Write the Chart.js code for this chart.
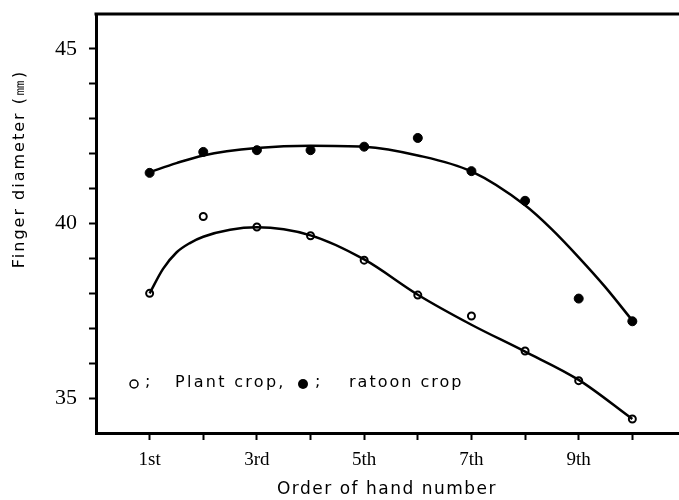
<!DOCTYPE html>
<html>
<head>
<meta charset="utf-8">
<script src="https://cdn.jsdelivr.net/npm/chart.js@4"></script>
<style>
  html, body { margin: 0; padding: 0; background: #fff; }
  #wrap { width: 679px; height: 500px; position: relative; }
</style>
</head>
<body>
<div id="wrap"><canvas id="fingerChart"></canvas></div>
<script>
// Finger diameter by hand order, plant crop vs ratoon crop

const hands = [1, 2, 3, 4, 5, 6, 7, 8, 9, 10];
const handLabels = { 1: '1st', 3: '3rd', 5: '5th', 7: '7th', 9: '9th' };
const yTicks = [35, 36, 37, 38, 39, 40, 41, 42, 43, 44, 45];

// observed means
const plantValues = [38.0, 40.2, 39.9, 39.65, 38.95, 37.95, 37.35, 36.35, 35.5, 34.4];
const ratoonValues = [41.45, 42.05, 42.1, 42.1, 42.2, 42.45, 41.5, 40.65, 37.85, 37.2];

// fitted curves
const plantFitX = [1, 1.25, 1.5, 1.75, 2, 2.5, 3, 4, 5, 6, 7, 8, 9, 10];
const plantFit = [38.0, 38.7, 39.17, 39.44, 39.62, 39.82, 39.89, 39.66, 38.97, 37.96, 37.1, 36.33, 35.52, 34.4];
const ratoonFitX = [1, 1.5, 2, 3, 4, 5, 6, 7, 8, 8.5, 9, 9.5, 10];
const ratoonFit = [41.47, 41.73, 41.95, 42.16, 42.23, 42.2, 41.95, 41.49, 40.52, 39.83, 39.03, 38.17, 37.22];

const toXY = (xs, ys) => xs.map((x, i) => ({ x: x, y: ys[i] }));

const decorations = {
    id: 'decorations',
    afterDraw(chart) {
        const ctx = chart.ctx;
        const area = chart.chartArea;
        ctx.save();

        // top frame line
        ctx.strokeStyle = '#000';
        ctx.lineWidth = 3;
        ctx.beginPath();
        ctx.moveTo(area.left - 1.5, area.top);
        ctx.lineTo(chart.width, area.top);
        ctx.stroke();

        ctx.fillStyle = '#000';
        ctx.textBaseline = 'middle';

        // legend
        ctx.font = '16px "DejaVu Sans"';
        ctx.letterSpacing = '2.3px';
        ctx.textAlign = 'left';
        ctx.beginPath();
        ctx.lineWidth = 1.5;
        ctx.arc(134, 384, 4, 0, Math.PI * 2);
        ctx.stroke();
        ctx.fillText(';', 145, 382);
        ctx.fillText('Plant crop,', 175, 383);
        ctx.beginPath();
        ctx.arc(303, 384, 5, 0, Math.PI * 2);
        ctx.fill();
        ctx.fillText(';', 315, 382);
        ctx.letterSpacing = '2px';
        ctx.fillText('ratoon crop', 349, 383);

        // x title
        ctx.font = '17px "DejaVu Sans"';
        ctx.letterSpacing = '1.5px';
        ctx.textAlign = 'center';
        ctx.fillText('Order of hand number', 387, 490);

        // y title
        ctx.translate(20, 169);
        ctx.rotate(-Math.PI / 2);
        ctx.font = '16px "DejaVu Sans"';
        ctx.letterSpacing = '2px';
        ctx.fillText('Finger diameter (㎜)', 0, 0);

        ctx.restore();
    }
};

new Chart(document.getElementById('fingerChart'), {
    type: 'scatter',
    data: {
        datasets: [
            {
                label: 'Plant crop fit',
                data: toXY(plantFitX, plantFit),
                showLine: true,
                borderColor: '#000',
                borderWidth: 2.5,
                pointRadius: 0,
                cubicInterpolationMode: 'monotone'
            },
            {
                label: 'Ratoon crop fit',
                data: toXY(ratoonFitX, ratoonFit),
                showLine: true,
                borderColor: '#000',
                borderWidth: 2.5,
                pointRadius: 0,
                cubicInterpolationMode: 'monotone'
            },
            {
                label: 'Plant crop',
                data: toXY(hands, plantValues),
                pointRadius: 3.5,
                pointBackgroundColor: '#fff',
                pointBorderColor: '#000',
                pointBorderWidth: 2
            },
            {
                label: 'Ratoon crop',
                data: toXY(hands, ratoonValues),
                pointRadius: 4.5,
                pointBackgroundColor: '#000',
                pointBorderColor: '#000',
                pointBorderWidth: 1
            }
        ]
    },
    options: {
        responsive: true,
        maintainAspectRatio: false,
        animation: false,
        layout: {
            autoPadding: false,
            padding: { top: 14, right: 0, left: 0, bottom: 0 }
        },
        plugins: {
            legend: { display: false },
            tooltip: { enabled: false }
        },
        scales: {
            x: {
                type: 'linear',
                min: 0,
                max: 10.87,
                afterBuildTicks: axis => { axis.ticks = hands.map(v => ({ value: v })); },
                afterFit: axis => {
                    axis.height = 67;
                    axis.paddingLeft = 0;
                    axis.paddingRight = 0;
                },
                ticks: {
                    autoSkip: false,
                    maxRotation: 0,
                    padding: 9,
                    color: '#000',
                    font: { family: '"Liberation Serif"', size: 19 },
                    callback: v => handLabels[v] || ''
                },
                grid: {
                    drawOnChartArea: false,
                    drawTicks: true,
                    tickLength: 7,
                    tickColor: '#000',
                    tickWidth: 2
                },
                border: { display: true, color: '#000', width: 3 }
            },
            y: {
                min: 34,
                max: 46,
                afterBuildTicks: axis => { axis.ticks = yTicks.map(v => ({ value: v })); },
                afterFit: axis => {
                    axis.width = 96;
                    axis.paddingTop = 0;
                    axis.paddingBottom = 0;
                },
                ticks: {
                    autoSkip: false,
                    padding: 12,
                    color: '#000',
                    font: { family: '"Liberation Serif"', size: 22 },
                    callback: v => (v % 5 === 0 ? v : '')
                },
                grid: {
                    drawOnChartArea: false,
                    drawTicks: true,
                    tickLength: 7,
                    tickColor: '#000',
                    tickWidth: 2
                },
                border: { display: true, color: '#000', width: 3 }
            }
        }
    },
    plugins: [decorations]
});
</script>
</body>
</html>
